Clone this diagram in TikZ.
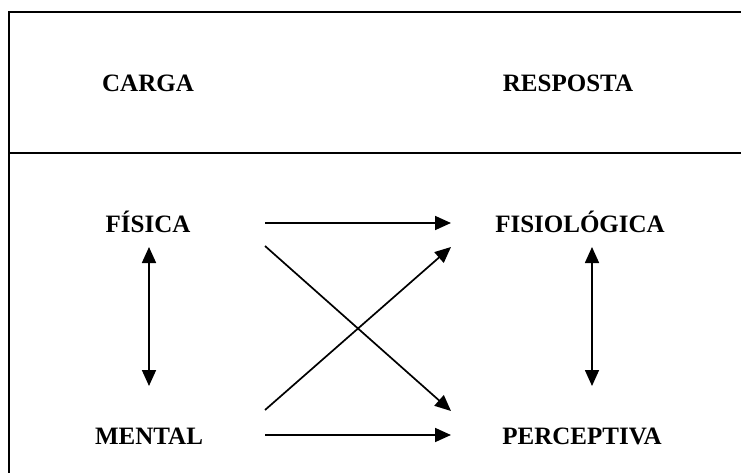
\documentclass[tikz,border=0pt]{standalone}
\usepackage{fontspec}
\setmainfont{Liberation Serif}
\usetikzlibrary{arrows.meta}
\begin{document}
\begin{tikzpicture}[x=1pt,y=-1pt,
  lbl/.style={font=\fontsize{25}{28}\selectfont\bfseries, anchor=base, inner sep=0pt},
  frame/.style={line width=2pt},
  conn/.style={line width=1.7pt, -{Triangle[length=16pt,width=14pt]}},
  dconn/.style={line width=1.7pt, {Triangle[length=16pt,width=14pt]}-{Triangle[length=16pt,width=14pt]}}]
\useasboundingbox (0,0) rectangle (741,473);
\clip (0,0) rectangle (741,473);
\fill[white] (0,0) rectangle (741,473);
\draw[frame] (9,480) -- (9,12) -- (750,12);
\draw[frame] (9,153) -- (750,153);
\node[lbl] (carga) at (148,92) {CARGA};
\node[lbl] (resp) at (568,92) {RESPOSTA};
\node[lbl] (fis) at (148,232) {FÍSICA};
\node[lbl] (fisio) at (580,232) {FISIOLÓGICA};
\node[lbl] (ment) at (149,444) {MENTAL};
\node[lbl] (perc) at (582,444) {PERCEPTIVA};
\coordinate (fisR) at (265,223);
\coordinate (fisD) at (265,246);
\coordinate (fisioL) at (451,223);
\coordinate (fisioD) at (451,247);
\coordinate (mentR) at (265,435);
\coordinate (mentU) at (265,410);
\coordinate (percL) at (451,435);
\coordinate (percU) at (451,411);
\coordinate (fisB) at (149,247);
\coordinate (mentT) at (149,386);
\coordinate (fisioB) at (592,247);
\coordinate (percT) at (592,386);
\draw[conn] (fisR) -- (fisioL);
\draw[conn] (mentR) -- (percL);
\draw[conn] (fisD) -- (percU);
\draw[conn] (mentU) -- (fisioD);
\draw[dconn] (fisB) -- (mentT);
\draw[dconn] (fisioB) -- (percT);
\end{tikzpicture}
\end{document}
